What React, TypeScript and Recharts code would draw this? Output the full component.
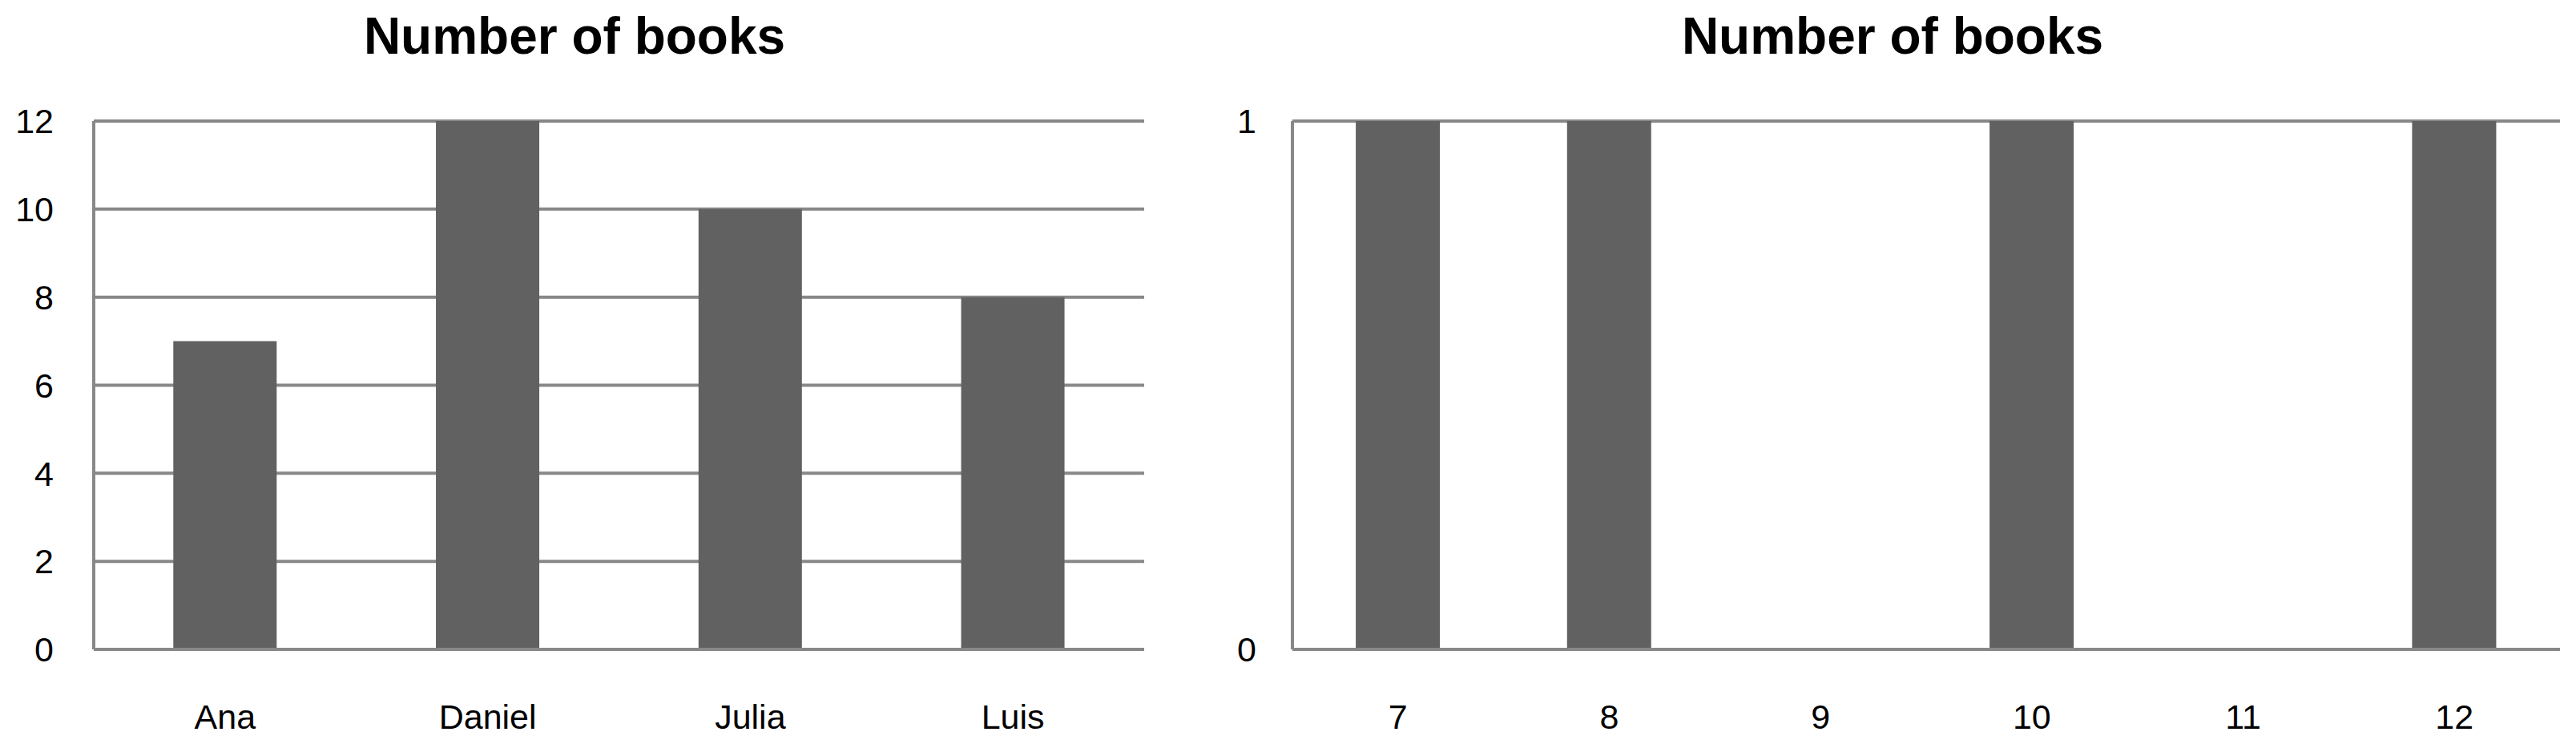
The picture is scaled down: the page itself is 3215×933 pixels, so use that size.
import React from "react";
import { BarChart, Bar, XAxis, YAxis, CartesianGrid } from "recharts";

const readers = ["Ana", "Daniel", "Julia", "Luis"];
const booksRead = [7, 12, 10, 8];
const leftTicks = [0, 2, 4, 6, 8, 10, 12];

const bookCounts = ["7", "8", "9", "10", "11", "12"];
const readerFrequency = [1, 1, 0, 1, 0, 1];
const rightTicks = [0, 1];

const chartTitle = "Number of books";

const leftData = readers.map((name, i) => ({ name, value: booksRead[i] }));
const rightData = bookCounts.map((name, i) => ({ name, value: readerFrequency[i] }));

const FONT = "'Liberation Sans', Arial, sans-serif";
const LINE = "#888888";
const BAR = "#616161";
const tickStyle = { fontSize: 43, fill: "#000000", fontFamily: FONT };

export default function App() {
  return (
    <div style={{ position: "fixed", left: 0, top: 0, width: 3215, height: 933, background: "#ffffff" }}>
      <div style={{ position: "absolute", left: 0, top: 0 }}>
        <BarChart
          width={1440}
          height={933}
          data={leftData}
          margin={{ top: 151, right: 12, bottom: 0, left: 0 }}
          barCategoryGap="30.3%"
        >
          <CartesianGrid vertical={false} stroke={LINE} strokeWidth={4} />
          <XAxis
            dataKey="name"
            height={123}
            tickLine={false}
            tickSize={0}
            tickMargin={68}
            axisLine={{ stroke: LINE, strokeWidth: 4 }}
            tick={tickStyle}
            interval={0}
          />
          <YAxis
            width={117}
            domain={[0, 12]}
            ticks={leftTicks}
            tickLine={false}
            tickSize={0}
            tickMargin={50}
            axisLine={{ stroke: LINE, strokeWidth: 4 }}
            tick={tickStyle}
            interval={0}
          />
          <Bar dataKey="value" fill={BAR} isAnimationActive={false} />
        </BarChart>
      </div>
      <div style={{ position: "absolute", left: 1440, top: 0 }}>
        <BarChart
          width={1775}
          height={933}
          data={rightData}
          margin={{ top: 151, right: 20, bottom: 0, left: 0 }}
          barCategoryGap="30%"
        >
          <CartesianGrid vertical={false} stroke={LINE} strokeWidth={4} />
          <XAxis
            dataKey="name"
            height={123}
            tickLine={false}
            tickSize={0}
            tickMargin={68}
            axisLine={{ stroke: LINE, strokeWidth: 4 }}
            tick={tickStyle}
            interval={0}
          />
          <YAxis
            width={173}
            domain={[0, 1]}
            ticks={rightTicks}
            tickLine={false}
            tickSize={0}
            tickMargin={45}
            axisLine={{ stroke: LINE, strokeWidth: 4 }}
            tick={tickStyle}
            interval={0}
          />
          <Bar dataKey="value" fill={BAR} isAnimationActive={false} />
        </BarChart>
      </div>
      <svg
        width={3215}
        height={933}
        style={{ position: "absolute", left: 0, top: 0, pointerEvents: "none" }}
      >
        <text x={717} y={67} textAnchor="middle" fontFamily={FONT} fontWeight="bold" fontSize={64} fill="#000000">
          {chartTitle}
        </text>
        <text x={2362} y={67} textAnchor="middle" fontFamily={FONT} fontWeight="bold" fontSize={64} fill="#000000">
          {chartTitle}
        </text>
      </svg>
    </div>
  );
}
